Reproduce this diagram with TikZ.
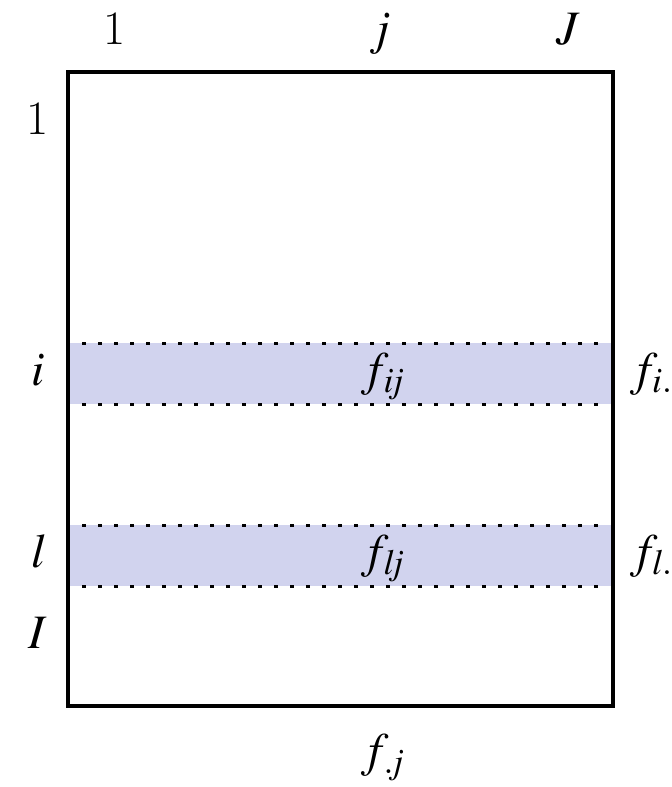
\documentclass[tikz,border=0pt]{standalone}
\usepackage{mathptmx}
\usetikzlibrary{positioning}
\definecolor{bandblue}{RGB}{209, 211, 238}

\begin{document}
\begin{tikzpicture}[x=0.5pt, y=-0.5pt, font=\fontsize{24}{28}\selectfont,
    lbl/.style={inner sep=0pt, anchor=base},
    rowline/.style={line width=1.5pt, dash pattern=on 2pt off 6pt}]
    \useasboundingbox (0,0) rectangle (672,787);

    % the two highlighted rows
    \fill[bandblue] (67.5,343) rectangle (613,404);
    \fill[bandblue] (67.5,525) rectangle (613,586);
    \draw[rowline] (82,343) -- (600,343);
    \draw[rowline] (82,404) -- (600,404);
    \draw[rowline] (82,525) -- (600,525);
    \draw[rowline] (82,586) -- (600,586);

    % the table
    \draw[line width=2pt] (67.5,72) rectangle (613,706);

    % column labels
    \node[lbl] (col1) at (115,44) {1};
    \node[lbl] (colj) at (383,44) {$\mathit{j}$};
    \node[lbl] (colJ) at (568,44) {$\mathit{J}$};

    % row labels
    \node[lbl] (row1) at (38,134) {1};
    \node[lbl] (rowi) at (38,385) {$\mathit{i}$};
    \node[lbl] (rowl) at (38,567) {$\mathit{l}$};
    \node[lbl] (rowI) at (38,648) {$\mathit{I}$};

    % frequencies
    \node[lbl] (fij) at (383,385) {$f_{\mathit{ij}}$};
    \node[lbl] (flj) at (383,567) {$f_{\mathit{lj}}$};
    \node[lbl, anchor=base west] (fi) at (630,385) {$f_{\mathit{i.}}$};
    \node[lbl, anchor=base west] (fl) at (630,567) {$f_{\mathit{l.}}$};
    \node[lbl] (fj) at (383,766) {$f_{\mathit{.j}}$};
\end{tikzpicture}
\end{document}
